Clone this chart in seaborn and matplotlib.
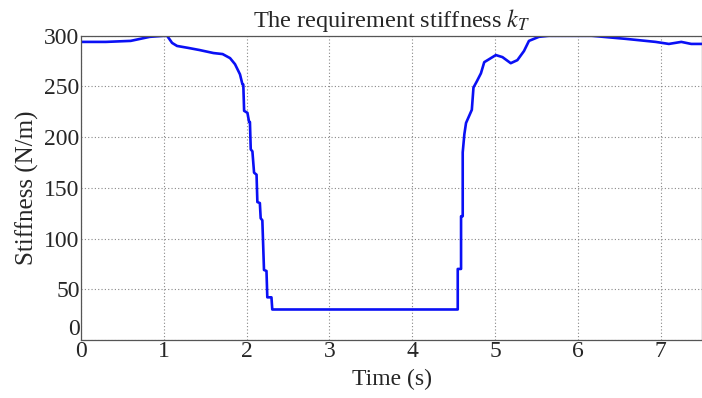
import matplotlib
matplotlib.use("Agg")
import matplotlib.pyplot as plt
import seaborn as sns
import pandas as pd

time_s = [0, 0.3, 0.6, 0.83, 1.0, 1.04, 1.1, 1.16, 1.3, 1.43, 1.6, 1.71, 1.8, 1.86, 1.92, 1.95,
          1.96, 1.97, 2.01, 2.03, 2.04, 2.05, 2.07, 2.09, 2.12, 2.13, 2.16, 2.17, 2.19, 2.21,
          2.24, 2.25, 2.30, 2.31, 4.55, 4.55, 4.59, 4.59, 4.61, 4.61, 4.63, 4.65, 4.72, 4.74,
          4.78, 4.83, 4.87, 4.93, 5.01, 5.09, 5.19, 5.27, 5.35, 5.41, 5.53, 5.65, 6.17, 6.58,
          6.94, 7.10, 7.25, 7.37, 7.5]
stiffness = [294, 294, 295, 299, 300, 300, 293, 290, 288, 286, 283, 282, 278, 272, 262, 252,
             252, 226, 224, 215, 215, 188, 186, 165, 163, 136, 135, 120, 118, 69,
             68, 42, 42, 30, 30, 70, 70, 122, 122, 185, 203, 214, 227, 249,
             255, 263, 274, 277, 281, 279, 273, 276, 285, 295, 299, 300, 300, 297,
             294, 292, 294, 292, 292]
x_ticks = [0, 1, 2, 3, 4, 5, 6, 7]
y_ticks = [0, 50, 100, 150, 200, 250, 300]

df = pd.DataFrame({"t": time_s, "k": stiffness})

sns.set_style("white")
plt.rcParams["font.family"] = ["Liberation Serif", "DejaVu Serif"]
plt.rcParams["mathtext.fontset"] = "stix"

fig = plt.figure(figsize=(7.02, 3.98), dpi=100)
ax = fig.add_axes([0.1154, 0.146, 0.8846, 0.764])

sns.lineplot(data=df, x="t", y="k", ax=ax, estimator=None, sort=False,
             color="#0a10f5", linewidth=1.9)

ax.set_xlim(0, 7.5)
ax.set_ylim(0, 300)
ax.set_xticks(x_ticks)
ax.set_yticks(y_ticks)
ax.tick_params(direction="in", labelsize=17, length=4, color="#666666", pad=1)
ax.grid(True, linestyle=(0, (1, 2)), color="#888888", linewidth=0.8)
for side in ["left", "bottom", "top", "right"]:
    ax.spines[side].set_color("#555555")
    ax.spines[side].set_linewidth(0.9)
ax.set_xlabel("Time (s)", fontsize=17, labelpad=5)
ax.set_ylabel("Stiffness (N/m)", fontsize=18, labelpad=4)
ax.set_title("The requirement stiffness $k_T$", fontsize=17.5, pad=6)

# keep the y "0" label just above the x "0" label, as in the reference
fig.canvas.draw()
ax.get_yticklabels()[0].set_verticalalignment("bottom")

fig.savefig("out.png", dpi=100)
